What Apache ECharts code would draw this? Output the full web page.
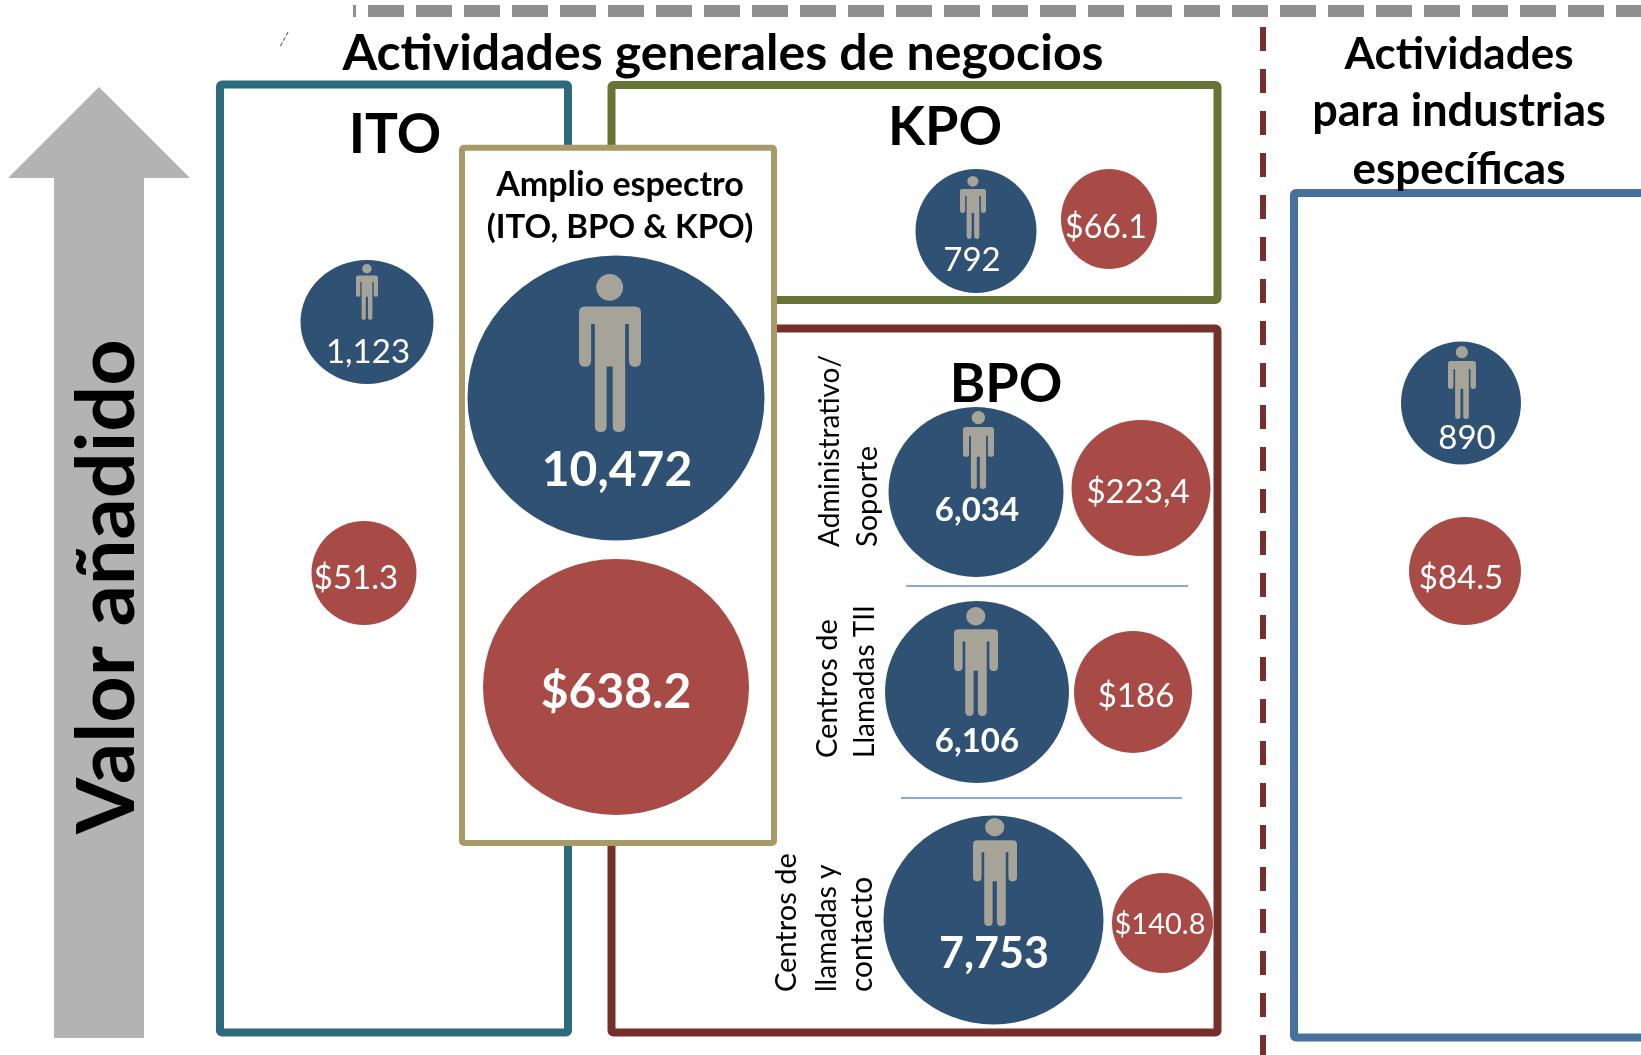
<!DOCTYPE html>
<html lang="es">
<head>
<meta charset="utf-8">
<title>Valor añadido</title>
<style>
  html, body { margin: 0; padding: 0; background: #fff; }
  #chart { width: 1641px; height: 1055px; }
</style>
<script src="https://cdn.jsdelivr.net/npm/echarts@6/dist/echarts.min.js"></script>
</head>
<body>
<div id="chart"></div>
<script>
// values, same order in every array
const groups = ["ITO", "Amplio espectro", "KPO", "Administrativo/Soporte", "Centros de llamadas TII", "Centros de llamadas y contacto", "Industrias específicas"];
const employees = [1123, 10472, 792, 6034, 6106, 7753, 890];
const revenue = [51.3, 638.2, 66.1, 223.4, 186, 140.8, 84.5];
const revenueLabels = ["$51.3", "$638.2", "$66.1", "$223,4", "$186", "$140.8", "$84.5"];

// layout only: bubble centre and size, label centre, label font
const employeeSpots = [
  { x: 367, y: 322, w: 133, h: 124, lx: 368, ly: 352, fs: 33, bold: false },
  { x: 616, y: 398, w: 297, h: 285, lx: 617, ly: 471, fs: 48, bold: true },
  { x: 976, y: 231, w: 121, h: 124, lx: 972, ly: 260, fs: 33, bold: false },
  { x: 976, y: 492, w: 175, h: 170, lx: 977, ly: 510, fs: 33, bold: true },
  { x: 977, y: 692, w: 184, h: 182, lx: 977, ly: 741, fs: 33, bold: true },
  { x: 993.5, y: 920, w: 220, h: 209, lx: 994, ly: 954, fs: 43, bold: true },
  { x: 1461, y: 403, w: 120, h: 123, lx: 1467, ly: 438, fs: 33, bold: false },
];
const revenueSpots = [
  { x: 364, y: 573, w: 105, h: 104, lx: 356, ly: 578, fs: 33, bold: false },
  { x: 616, y: 687, w: 266, h: 256, lx: 616, ly: 693, fs: 48, bold: true },
  { x: 1109, y: 219, w: 96, h: 100, lx: 1106, ly: 228, fs: 32, bold: false },
  { x: 1141, y: 488, w: 139, h: 136, lx: 1138, ly: 492, fs: 33, bold: false },
  { x: 1133, y: 692, w: 118, h: 122, lx: 1136, ly: 696, fs: 33, bold: false },
  { x: 1162.5, y: 923, w: 101, h: 100, lx: 1160, ly: 925, fs: 29, bold: false },
  { x: 1465, y: 571, w: 112, h: 108, lx: 1461, ly: 578, fs: 33, bold: false },
];
// person icon box: left, top, right, bottom
const personBoxes = [
  [356, 264, 378, 320],
  [579, 274, 641, 432],
  [960, 176, 986, 239],
  [963, 411, 994, 489],
  [954, 607, 998, 716],
  [973, 818, 1017, 926],
  [1448, 346, 1476, 419],
];

const FONT = "Lato, 'Noto Sans', sans-serif";
const BLUE = "#2F5173";
const RED = "#A84A45";
const PERSON = "path://M91 0A40 40 0 1 1 91 80A40 40 0 1 1 91 0ZM18 97H166Q184 97 184 115V260Q184 278 166 278Q148 278 148 260V150H137V455Q137 473 118 473Q100 473 100 455V277H82V455Q82 473 65 473Q47 473 47 455V150H36V260Q36 278 18 278Q0 278 0 260V115Q0 97 18 97Z";

// one bubble point with its value label
const bubblePoint = (name, value, text, spot) => ({
  name,
  value: [spot.x, spot.y, value],
  symbolSize: [spot.w, spot.h],
  label: {
    show: true,
    position: "inside",
    offset: [spot.lx - spot.x, spot.ly - spot.y],
    formatter: text,
    color: "#fff",
    fontFamily: FONT,
    fontSize: spot.fs,
    fontWeight: spot.bold ? "bold" : "normal",
  },
});

// box outline
const box = (x1, y1, x2, y2, color, width, fill) => ({
  type: "rect",
  shape: { x: x1, y: y1, width: x2 - x1, height: y2 - y1, r: 2 },
  style: { fill: fill || "none", stroke: color, lineWidth: width },
});

// centred text
const label = (text, x, y, size, bold) => ({
  type: "text",
  x,
  y,
  style: {
    text,
    fill: "#000",
    font: (bold ? "bold " : "") + size + "px " + FONT,
    textAlign: "center",
    textVerticalAlign: "middle",
  },
});

// text read bottom to top, starting at y
const sideLabel = (text, x, y, size, bold) => ({
  type: "text",
  x,
  y,
  rotation: Math.PI / 2,
  style: {
    text,
    fill: "#000",
    font: (bold ? "bold " : "") + size + "px " + FONT,
    textAlign: "left",
    textVerticalAlign: "middle",
  },
});

const getGraphics = () => [
  // value arrow
  {
    type: "polygon",
    shape: { points: [[99, 87], [190, 178], [144, 178], [144, 1038], [54, 1038], [54, 178], [8, 178]] },
    style: { fill: "#B3B3B3" },
  },
  // dashed separators
  {
    type: "line",
    shape: { x1: 353, y1: 11, x2: 1641, y2: 11 },
    style: { stroke: "#8F8F8F", lineWidth: 12, lineDash: [36, 12], lineDashOffset: 33 },
  },
  {
    type: "line",
    shape: { x1: 1263, y1: 27, x2: 1263, y2: 1055 },
    style: { stroke: "#772F2C", lineWidth: 6, lineDash: [24, 18] },
  },
  {
    type: "line",
    shape: { x1: 288, y1: 32, x2: 280, y2: 47 },
    style: { stroke: "#707070", lineWidth: 1.2, lineDash: [4, 2] },
  },
  // group boxes
  box(220, 84.5, 568, 1032.5, "#2C6B7C", 8),
  box(611.5, 85, 1217.5, 300, "#667534", 8),
  box(611.5, 328.5, 1217.5, 1032.5, "#772F2C", 8),
  box(1294, 193, 1650, 1037.5, "#47709F", 8),
  box(462, 147.7, 774, 843, "#A79A68", 6, "#fff"),
  // lines between the BPO rows
  {
    type: "line",
    shape: { x1: 906, y1: 586, x2: 1188, y2: 586 },
    style: { stroke: "#5B8FC9", lineWidth: 1.5 },
  },
  {
    type: "line",
    shape: { x1: 901, y1: 798, x2: 1182, y2: 798 },
    style: { stroke: "#5B8FC9", lineWidth: 1.5 },
  },
  // headings
  label("Actividades generales de negocios", 723, 54, 50, true),
  label("Actividades", 1459, 55, 44, true),
  label("para industrias", 1459, 111, 45, true),
  label("específicas", 1459, 170, 44, true),
  label("ITO", 395, 135, 55, true),
  label("KPO", 945, 128, 54, true),
  label("BPO", 1006, 385, 54, true),
  label("Amplio espectro", 620, 185, 34, true),
  label("(ITO, BPO & KPO)", 620, 227, 33, true),
  // rotated labels
  sideLabel("Valor añadido", 108, 834, 81, true),
  sideLabel("Administrativo/", 830, 547, 28),
  sideLabel("Soporte", 868, 547, 29),
  sideLabel("Centros de", 828, 758, 29),
  sideLabel("Llamadas TII", 865, 758, 28),
  sideLabel("Centros de", 787, 992, 29),
  sideLabel("llamadas y", 827, 992, 28),
  sideLabel("contacto", 862, 992, 30),
];

const getOption = () => ({
  animation: false,
  backgroundColor: "#fff",
  grid: { left: 0, right: 0, top: 0, bottom: 0 },
  xAxis: { type: "value", min: 0, max: 1641, show: false },
  yAxis: { type: "value", min: 0, max: 1055, inverse: true, show: false },
  graphic: { elements: getGraphics() },
  series: [
    {
      name: "Empleados",
      type: "scatter",
      z: 3,
      itemStyle: { color: BLUE, opacity: 1 },
      data: employees.map((v, i) => bubblePoint(groups[i], v, v.toLocaleString("en-US"), employeeSpots[i])),
    },
    {
      name: "Ingresos",
      type: "scatter",
      z: 3,
      itemStyle: { color: RED, opacity: 1 },
      data: revenue.map((v, i) => bubblePoint(groups[i], v, revenueLabels[i], revenueSpots[i])),
    },
    {
      name: "Personas",
      type: "scatter",
      z: 4,
      symbol: PERSON,
      itemStyle: { color: "#A6A398", opacity: 1 },
      data: personBoxes.map((b, i) => ({
        name: groups[i],
        value: [(b[0] + b[2]) / 2, (b[1] + b[3]) / 2],
        symbolSize: [b[2] - b[0], b[3] - b[1]],
      })),
    },
  ],
});

const chart = echarts.init(document.getElementById("chart"));
chart.setOption(getOption());
</script>
</body>
</html>
